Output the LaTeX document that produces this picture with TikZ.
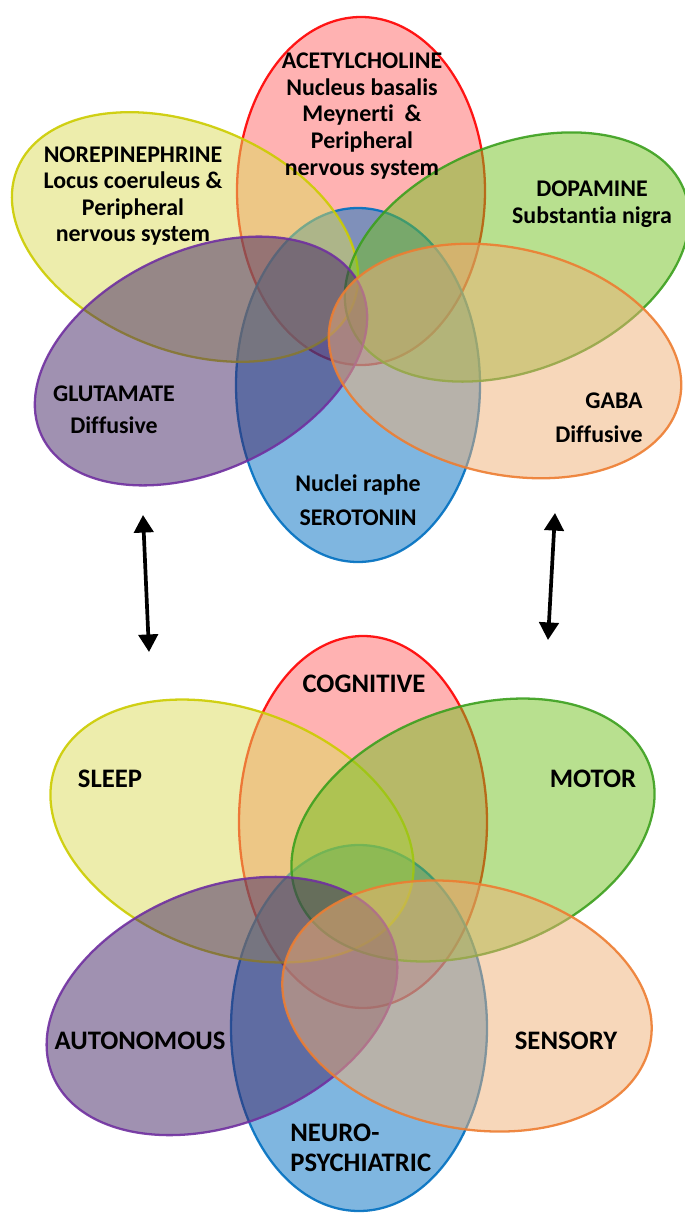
\documentclass[tikz,border=0pt]{standalone}
\usepackage{fontspec}
\setmainfont{Carlito}[Ligatures=NoCommon]
\usepackage{tikz}
\usetikzlibrary{arrows.meta}

\definecolor{achfill}{RGB}{255,102,102}
\definecolor{achline}{RGB}{255,0,0}
\definecolor{serfill}{RGB}{0,110,194}
\definecolor{serline}{RGB}{0,112,192}
\definecolor{norfill}{RGB}{220,220,90}
\definecolor{norline}{RGB}{204,204,0}
\definecolor{dopfill}{RGB}{113,193,31}
\definecolor{dopline}{RGB}{60,160,30}
\definecolor{glufill}{RGB}{65,35,100}
\definecolor{gluline}{RGB}{112,48,160}
\definecolor{gabfill}{RGB}{240,175,117}
\definecolor{gabline}{RGB}{237,125,49}

\begin{document}
\begin{tikzpicture}[x=0.02cm, y=0.02cm,
	petal/.style={line width=1.3pt, fill opacity=0.5, draw opacity=0.9},
	lbl/.style={font=\bfseries\fontsize{13.6}{15.1}\selectfont, align=center, inner sep=0pt},
	big/.style={font=\bfseries\fontsize{15.2}{17}\selectfont, align=center, inner sep=0pt},
	dblarrow/.style={line width=2.1pt, {Triangle[length=10pt,width=11pt]}-{Triangle[length=10pt,width=11pt]}}]
\useasboundingbox (0,0) rectangle (684,-1214);

% upper flower
\draw[petal, draw=achline, fill=achfill] (361,-191) ellipse [x radius=124, y radius=174];
\draw[petal, draw=serline, fill=serfill] (358,-385) ellipse [x radius=122, y radius=177];
\draw[petal, draw=norline, fill=norfill, rotate around={-22:(185,-237)}] (185,-237) ellipse [x radius=181, y radius=113];
\draw[petal, draw=dopline, fill=dopfill, rotate around={22:(517,-257)}] (517,-257) ellipse [x radius=180, y radius=113];
\draw[petal, draw=gluline, fill=glufill, rotate around={25:(201,-361)}] (201,-361) ellipse [x radius=176, y radius=110];
\draw[petal, draw=gabline, fill=gabfill, rotate around={-13:(505,-361)}] (505,-361) ellipse [x radius=179, y radius=113];

\node[lbl] (ach) at (362,-116) {ACETYLCHOLINE\\Nucleus basalis\\Meynerti~ \&\\Peripheral\\nervous system};
\node[lbl] (nor) at (133,-196) {NOREPINEPHRINE\\Locus coeruleus \&\\Peripheral\\nervous system};
\node[lbl] (dop) at (592,-204) {DOPAMINE\\Substantia nigra};
\node[lbl] (glu) at (114,-410) {GLUTAMATE\\[3pt]Diffusive};
\node[lbl, align=right, anchor=east] (gab) at (643,-418) {GABA\\[4pt]Diffusive};
\node[lbl] (ser) at (358,-500) {Nuclei raphe\\[4pt]SEROTONIN};

% lower flower
\draw[petal, draw=achline, fill=achfill] (363,-822) ellipse [x radius=124, y radius=186];
\draw[petal, draw=serline, fill=serfill] (359,-1028) ellipse [x radius=128, y radius=183];
\draw[petal, draw=norline, fill=norfill, rotate around={-20:(232,-831)}] (232,-831) ellipse [x radius=188, y radius=122];
\draw[petal, draw=dopline, fill=dopfill, rotate around={20:(473,-830)}] (473,-830) ellipse [x radius=188, y radius=122];
\draw[petal, draw=gluline, fill=glufill, rotate around={22:(222,-1006)}] (222,-1006) ellipse [x radius=183, y radius=118];
\draw[petal, draw=gabline, fill=gabfill, rotate around={-12:(467,-1006)}] (467,-1006) ellipse [x radius=187, y radius=122];

\node[big] (cog) at (364,-684) {COGNITIVE};
\node[big] (slp) at (110,-779) {SLEEP};
\node[big] (mot) at (593,-779) {MOTOR};
\node[big] (aut) at (140,-1041) {AUTONOMOUS};
\node[big] (sen) at (566,-1041) {SENSORY};
\node[big, align=left, anchor=west] (neu) at (290,-1148) {NEURO-\\PSYCHIATRIC};

% links between the two
\coordinate (lt) at (143,-515);
\coordinate (lb) at (149,-652);
\coordinate (rt) at (555,-513);
\coordinate (rb) at (548,-640);
\draw[dblarrow] (lt) -- (lb);
\draw[dblarrow] (rt) -- (rb);
\end{tikzpicture}
\end{document}
